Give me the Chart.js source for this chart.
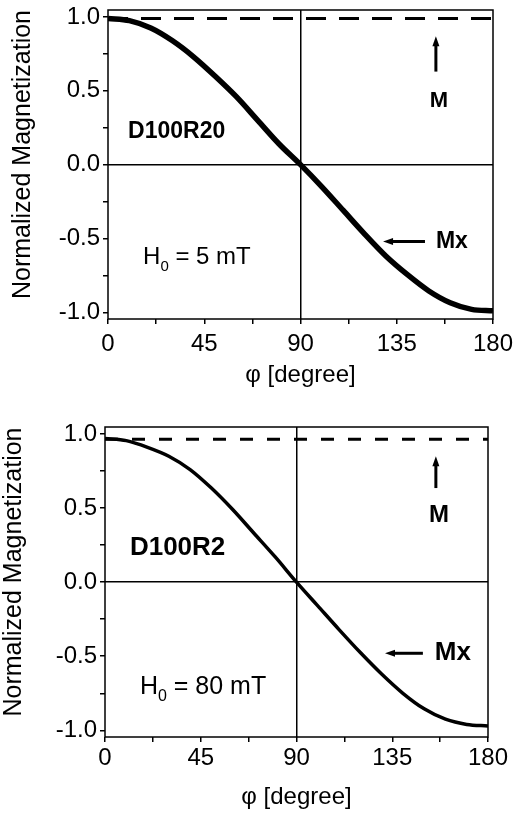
<!DOCTYPE html>
<html>
<head>
<meta charset="utf-8">
<script src="https://cdn.jsdelivr.net/npm/chart.js@4/dist/chart.umd.min.js"></script>
<style>
  body { margin: 0; background: #fff; }
  .panel { position: relative; width: 527px; }
</style>
</head>
<body>
<div class="panel" style="height:400px"><canvas id="top"></canvas></div>
<div class="panel" style="height:416px"><canvas id="bottom"></canvas></div>
<script>
// angle grid (degrees) for the Mx curves
const angles = [0, 10, 20, 30, 40, 50, 60, 70, 80, 90, 100, 110, 120, 130, 140, 150, 160, 170, 180];
// Mx, D100R20 at H0 = 5 mT
const mxTop = [0.99, 0.975, 0.925, 0.84, 0.73, 0.60, 0.46, 0.30, 0.14, 0.0,
  -0.15, -0.31, -0.47, -0.62, -0.745, -0.855, -0.935, -0.98, -0.99];
// Mx for D100R2 at H0 = 80 mT
const mxBottom = [0.97, 0.955, 0.91, 0.85, 0.76, 0.635, 0.49, 0.33, 0.17, 0.0,
  -0.16, -0.32, -0.475, -0.62, -0.75, -0.855, -0.925, -0.96, -0.97];
// |M| (dashed line)
const mAngles = [0, 180];
const mTop = [0.99, 0.99];
const mBottom = [0.965, 0.965];
// ticks
const xTicks = [0, 22.5, 45, 67.5, 90, 112.5, 135, 157.5, 180];
const yTicks = [-1, -0.75, -0.5, -0.25, 0, 0.25, 0.5, 0.75, 1];

const FAMILY = '"Liberation Sans", Arial, sans-serif';
Chart.defaults.color = '#000';

// frame, y title, text labels and arrows
const annotate = {
  id: 'annotate',
  afterDraw(chart, args, opts) {
    const { ctx, chartArea: a, scales: { x, y } } = chart;
    ctx.save();
    ctx.strokeStyle = '#000';
    ctx.fillStyle = '#000';
    ctx.lineWidth = 1.5;
    ctx.strokeRect(a.left, a.top, a.right - a.left, a.bottom - a.top);

    // y axis title, sits a little above the middle of the plot
    ctx.save();
    ctx.translate(opts.yTitle.x, (a.top + a.bottom) / 2 + opts.yTitle.shift);
    ctx.rotate(-Math.PI / 2);
    ctx.font = `25px ${FAMILY}`;
    ctx.textAlign = 'center';
    ctx.textBaseline = 'middle';
    ctx.fillText('Normalized Magnetization', 0, 0);
    ctx.restore();

    ctx.textBaseline = 'middle';
    opts.labels.forEach(l => {
      let px = x.getPixelForValue(l.x);
      const py = y.getPixelForValue(l.y);
      ctx.font = `${l.bold ? 'bold ' : ''}${l.size}px ${FAMILY}`;
      ctx.textAlign = l.align || 'left';
      ctx.fillText(l.text, px, py);
      if (l.sub) {
        px += ctx.measureText(l.text).width;
        ctx.font = `${Math.round(l.size * 0.62)}px ${FAMILY}`;
        ctx.textAlign = 'left';
        ctx.fillText(l.sub, px, py + l.size * 0.38);
        px += ctx.measureText(l.sub).width;
        ctx.font = `${l.size}px ${FAMILY}`;
        ctx.fillText(l.rest, px, py);
      }
    });

    opts.arrows.forEach(ar => {
      const x0 = x.getPixelForValue(ar.from[0]), y0 = y.getPixelForValue(ar.from[1]);
      const x1 = x.getPixelForValue(ar.to[0]), y1 = y.getPixelForValue(ar.to[1]);
      const ang = Math.atan2(y1 - y0, x1 - x0);
      const head = 10, half = 3.5;
      ctx.lineWidth = 3;
      ctx.beginPath();
      ctx.moveTo(x0, y0);
      ctx.lineTo(x1 - Math.cos(ang) * head * 0.8, y1 - Math.sin(ang) * head * 0.8);
      ctx.stroke();
      ctx.beginPath();
      ctx.moveTo(x1, y1);
      ctx.lineTo(x1 - Math.cos(ang) * head - Math.sin(ang) * half, y1 - Math.sin(ang) * head + Math.cos(ang) * half);
      ctx.lineTo(x1 - Math.cos(ang) * head + Math.sin(ang) * half, y1 - Math.sin(ang) * head - Math.cos(ang) * half);
      ctx.closePath();
      ctx.fill();
    });
    ctx.restore();
  }
};

function makeChart(id, mx, m, cfg) {
  const tickFont = { family: FAMILY, size: 24 };
  return new Chart(document.getElementById(id), {
    type: 'line',
    data: {
      datasets: [
        {
          label: 'Mx',
          data: angles.map((a, i) => ({ x: a, y: mx[i] })),
          borderColor: '#000',
          borderWidth: cfg.mxWidth,
          pointRadius: 0,
          cubicInterpolationMode: 'monotone',
        },
        {
          label: 'M',
          data: mAngles.map((a, i) => ({ x: a, y: m[i] })),
          borderColor: '#000',
          borderWidth: 3,
          borderDash: cfg.dash,
          pointRadius: 0,
        },
      ],
    },
    options: {
      responsive: true,
      maintainAspectRatio: false,
      animation: false,
      layout: { padding: cfg.padding },
      plugins: {
        legend: { display: false },
        tooltip: { enabled: false },
        annotate: cfg.notes,
      },
      scales: {
        x: {
          type: 'linear',
          min: 0,
          max: 180,
          afterBuildTicks: (s) => { s.ticks = xTicks.map(v => ({ value: v })); },
          afterFit: (s) => { s.height = cfg.xHeight; s.paddingLeft = 0; s.paddingRight = 0; },
          ticks: {
            autoSkip: false,
            maxRotation: 0,
            font: tickFont,
            padding: cfg.xPad,
            callback: (v) => (v % 45 === 0 ? String(v) : ''),
          },
          grid: {
            color: (c) => (c.tick && c.tick.value === 90 ? '#000' : 'rgba(0,0,0,0)'),
            lineWidth: 1.5,
            tickColor: '#000',
            tickWidth: 1.5,
            tickLength: 5,
          },
          border: { display: false },
          title: {
            display: true,
            text: 'φ [degree]',
            font: { family: FAMILY, size: 24, lineHeight: 1 },
            padding: { top: 0, bottom: cfg.xTitlePad },
          },
        },
        y: {
          min: -1.045,
          max: 1.047,
          afterBuildTicks: (s) => { s.ticks = yTicks.map(v => ({ value: v })); },
          afterFit: (s) => { s.width = cfg.yWidth; s.paddingTop = 0; s.paddingBottom = 0; },
          ticks: {
            autoSkip: false,
            font: tickFont,
            padding: 3,
            callback: (v) => (v % 0.5 === 0 ? v.toFixed(1) : ''),
          },
          grid: {
            color: (c) => (c.tick && c.tick.value === 0 ? '#000' : 'rgba(0,0,0,0)'),
            lineWidth: 1.5,
            tickColor: '#000',
            tickWidth: 1.5,
            tickLength: 5,
          },
          border: { display: false },
        },
      },
    },
    plugins: [annotate],
  });
}

makeChart('top', mxTop, mTop, {
  mxWidth: 5.5,
  dash: [20, 13],
  padding: { top: 10, right: 34, left: 0, bottom: 0 },
  xHeight: 81,
  yWidth: 108,
  xPad: 6,
  xTitlePad: 13,
  notes: {
    yTitle: { x: 23, shift: -10 },
    labels: [
      { text: 'D100R20', x: 9.4, y: 0.22, size: 23, bold: true },
      { text: 'H', sub: '0', rest: ' = 5 mT', x: 16.4, y: -0.63, size: 24 },
      { text: 'M', x: 154.7, y: 0.43, size: 22, bold: true, align: 'center' },
      { text: 'Mx', x: 153.3, y: -0.52, size: 23, bold: true },
    ],
    arrows: [
      { from: [153.3, 0.63], to: [153.3, 0.87] },
      { from: [148.2, -0.52], to: [128.6, -0.52] },
    ],
  },
});

makeChart('bottom', mxBottom, mBottom, {
  mxWidth: 3.5,
  dash: [13, 14],
  padding: { top: 27, right: 39, left: 0, bottom: 0 },
  xHeight: 79,
  yWidth: 105,
  xPad: 2,
  xTitlePad: 7,
  notes: {
    yTitle: { x: 14, shift: -10 },
    labels: [
      { text: 'D100R2', x: 11.7, y: 0.23, size: 26, bold: true },
      { text: 'H', sub: '0', rest: ' = 80 mT', x: 16.4, y: -0.71, size: 25 },
      { text: 'M', x: 157, y: 0.45, size: 24, bold: true, align: 'center' },
      { text: 'Mx', x: 155, y: -0.48, size: 26, bold: true },
    ],
    arrows: [
      { from: [155.5, 0.635], to: [155.5, 0.85] },
      { from: [149.4, -0.48], to: [131.6, -0.48] },
    ],
  },
});
</script>
</body>
</html>
